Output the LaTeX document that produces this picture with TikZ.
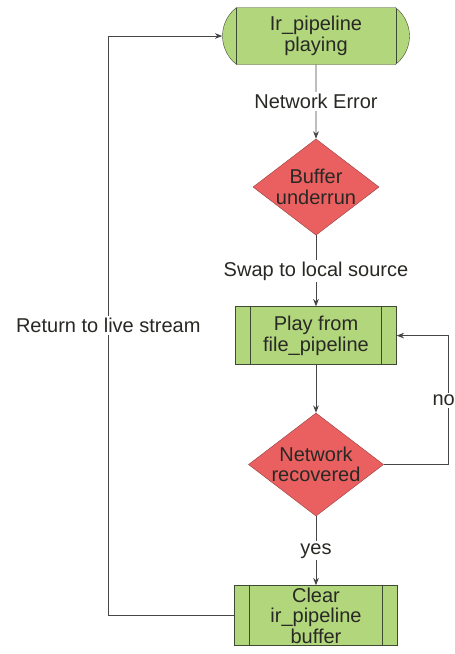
\documentclass[tikz,border=0pt]{standalone}
\usepackage{fontspec}
\setmainfont{Liberation Sans}
\usepackage{tikz}
\usetikzlibrary{positioning,arrows.meta,shapes.geometric,shapes.misc}
\definecolor{fcgreen}{RGB}{178,214,124}
\definecolor{fcgreenline}{RGB}{62,74,52}
\definecolor{fcred}{RGB}{234,96,96}
\definecolor{fcredline}{RGB}{150,62,62}
\definecolor{fcdark}{RGB}{40,40,36}
\definecolor{fcgray}{RGB}{70,70,70}

\begin{document}
\begin{tikzpicture}[
  font=\fontsize{20pt}{20.5pt}\selectfont,
  procbox/.style={draw=fcgreenline, fill=fcgreen, align=center, inner sep=0pt,
              minimum width=161pt, minimum height=58pt, text=fcdark,
              path picture={
                \draw[fcgreenline] ([xshift=15pt]path picture bounding box.north west)
                  -- ([xshift=15pt]path picture bounding box.south west);
                \draw[fcgreenline] ([xshift=-15pt]path picture bounding box.north east)
                  -- ([xshift=-15pt]path picture bounding box.south east);}},
  endbox/.style={procbox, rounded rectangle, rounded rectangle arc length=105,
              minimum width=187pt, minimum height=57pt},
  decide/.style={diamond, draw=fcredline, fill=fcred, align=center, inner sep=0pt,
              aspect=1.31, text=fcdark},
  line/.style={-{Stealth[length=2.6mm,width=2mm]}, draw=fcgray, line width=0.9pt},
  lbl/.style={fill=white, inner sep=2pt, text=fcdark},
]
\useasboundingbox (0,0) rectangle (455pt,-654pt);

\node[endbox] (live) at (316pt,-36pt) {Ir\_pipeline\\playing};
\node[decide, below=74pt of live] (underrun) {Buffer\\underrun};
\node[procbox, below=71pt of underrun] (playfile) {Play from\\file\_pipeline};
\node[decide, below=48pt of playfile] (recovered) {Network\\recovered};
\node[procbox, minimum width=163pt, minimum height=60pt, below=69pt of recovered] (clearbuf)
  {Clear\\ir\_pipeline\\buffer};

\draw[line] (live) -- node[lbl] {Network Error} (underrun);
\draw[line] (underrun) -- node[lbl] {Swap to local source} (playfile);
\draw[line] (playfile) -- (recovered);
\draw[line] (recovered) -- node[lbl] {yes} (clearbuf);

% loop back while the network is still down
\draw[line] (recovered.east) -- ++(65pt,0) |- node[lbl, pos=0.25, xshift=-5pt] {no} (playfile.east);
% back to the live pipeline
\draw[line] (clearbuf.west) -- ++(-126pt,0) |- node[lbl, pos=0.25] {Return to live stream} (live.west);
\end{tikzpicture}
\end{document}
